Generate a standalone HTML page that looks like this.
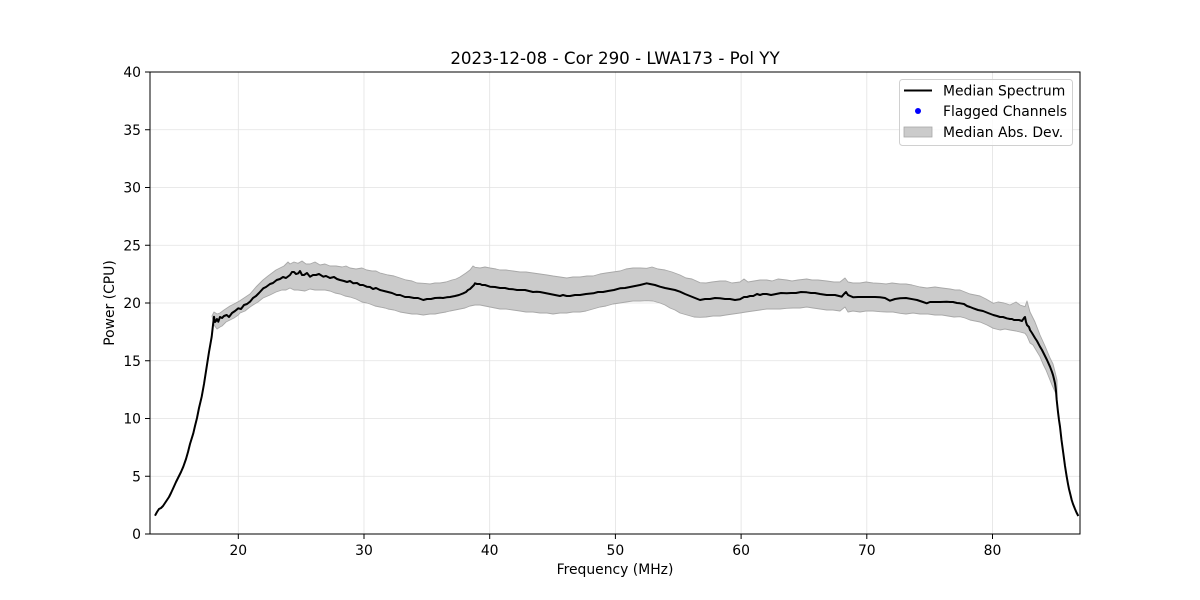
<!DOCTYPE html>
<html><head><meta charset="utf-8"><style>
html,body{margin:0;padding:0;background:#fff;}
svg{display:block;font-family:"DejaVu Sans","Liberation Sans",sans-serif;}
</style></head><body>
<svg width="1200" height="600" viewBox="0 0 1200 600" xmlns="http://www.w3.org/2000/svg">
<rect width="1200" height="600" fill="#fff"/>
<!-- grid -->
<g stroke="#e2e2e2" stroke-width="0.8">
<line x1="238.3" y1="72" x2="238.3" y2="534"/>
<line x1="364" y1="72" x2="364" y2="534"/>
<line x1="489.7" y1="72" x2="489.7" y2="534"/>
<line x1="615.4" y1="72" x2="615.4" y2="534"/>
<line x1="741.1" y1="72" x2="741.1" y2="534"/>
<line x1="866.8" y1="72" x2="866.8" y2="534"/>
<line x1="992.5" y1="72" x2="992.5" y2="534"/>
<line x1="150" y1="476.25" x2="1080" y2="476.25"/>
<line x1="150" y1="418.5" x2="1080" y2="418.5"/>
<line x1="150" y1="360.75" x2="1080" y2="360.75"/>
<line x1="150" y1="303" x2="1080" y2="303"/>
<line x1="150" y1="245.25" x2="1080" y2="245.25"/>
<line x1="150" y1="187.5" x2="1080" y2="187.5"/>
<line x1="150" y1="129.75" x2="1080" y2="129.75"/>
</g>
<!-- band -->
<polygon fill="#cbcbcb" stroke="#a8a8a8" stroke-width="0.9" stroke-linejoin="round" points="
212,316 214,312 217,314 220,313 224,310 230,306 234,304 238.3,301.7 244,298 250,294 256,287 263,280 268,276 272,273 276,270 280,268 284,266 288,262 290,264 294,262 298,263.3 302,261 306,264 310,264 315,262 320,265 325,264 330,266 336,266 342,267 346,266 350,268 356,269 362,268 366.7,270 372,271 376,271 380,273 388,275 394,276 400,278 406,280 412,281 417,283 423.3,283.3 430,284 435,283 440,283 446,282 452,280 456,279 460,277 466,273 470,270 473,266 475,267.3 480,268 485,267 490,268 496,269 500,270 506,270 513,271 520,272 526,272 533,273 540,274 547,275 553,276 560,277 566.7,278 573,277 580,277 587,276 593,276 600,274 606,273 613,272 620,271 626,269 633,268 640,268 646.7,268.3 652,267 658,269 665,270 672,272 680,275 686,278 692,279 700,282.7 706,283 712,282 720,281 726,281 732,283 740,282 744,279 748,282 754,281 760,280 766.7,280 772,281 778,279 786.7,280 792,281 798,280 806.7,279 812,280 818,280 826.7,281 834,282 840,282 845,278 848,282 853,283 860,283 866,282 873,283 880,283.3 886,284 892,283 900,284 906,284 912,285 920,287 927,288 935,287 942,288 950,289 955,290 960,290 965,292 970,294 975,295 980,296 986,299 993.3,303.3 998,302 1004,303 1010,305 1016,302 1020,305 1025,306.7 1027,301 1030,312 1035,322 1040,335 1045,346 1050,358 1053,364 1055,371.7 1057,380
1057,396 1055,391.7 1052,385 1050,380 1046,370 1043,364 1040,356.7 1036,350 1033,345 1030,343 1027,336 1025,333.3 1020,332 1016,331 1010,330 1005,329 1000,330 993.3,328.3 987,325 980,322 975,321 970,320 965,318 960,316.7 954,317 948,316 942,315 935,315 928,314 920,314 913,313 906,314 900,313.3 893,312 887,312 880,311.7 873,311 866,311 860,312 853,311 848,312 845,307 840,311 833,310 826.7,310 820,309 813,308 806.7,307 800,308 793,308 786.7,308.3 780,309 773,309 766.7,309 760,310 753,311 746,312 740,313 733,314 726,315 720,316 713,316 706,317 700,317.3 694,317 687,315 680,313 675,310 670,308 665,305 660,303 653,301 646.7,300.7 640,301 633,301 626,302 620,303 613,304 606,306 600,307 593,309 586,311 580,312 573,312 566.7,313 560,313 553,314 547,313 540,313 533,312 526,312 520,311 513,310 506,309 500,309 495,308 490,307 485,306 480,305 475,305 470,306 465,308 460,309 455,310 450,311 446,312 440,313 435,314 430,314 423.3,315 417,314 412,314 406,313 400,312 394,310 388,309 385,308 380,307 375,306 370,304 366.7,303 362,302 356,299 350,297 345,296 340,294 335,293 330,291 325,290 320,290 315,290 310,289 305,291 298,290 294,290 290,288 286,290 282,290 276,292 270,295 263,298 258,302 253,305 250,307 245,311 240,313 238.3,315 234,318 230,320 226,322 222,326 220,327 217,329 214,325"/>
<!-- median -->
<polyline fill="none" stroke="#000" stroke-width="2" stroke-linejoin="round" points="
155,515.7 157,512 159,509 161,508 163,506 165,503 167,500 169,497 171,493 173.3,488 176,482 178,478 181,472 183.3,466.7 186,459 188,452 190,444 193.3,433.3 195,426 197,418 199,408 201.7,396.7 204,384 206.7,366.7 209,352 211.7,336.7 213,325 214,316.7 215,322 216,321 217,319 218.3,321.7 220,317 222,318 224,316 226.7,315 229,317 232,313 235,311 238.3,308.3 241,309 244,305 247,304 250,301.7 253,298 256,296 259,293 263.3,288.3 266,287 270,284 273,283 276.7,280 280,279 283,277 286,278 290,275 292,272 294,272 296,274 298.3,273.3 300,271 302,275 304,275 307,273 310,276.7 313,275 316,275 319,274 323.3,276.7 326,276 330,278 334,277 337,279 340,280 344,281 347,282 350,281 353.3,283.3 357,283 360,285 363,285 366.7,286.7 370,287 373,289 376,288 380,290 384,291 388,292 392,293 396.7,295 400,295 405,297 409,297 414,298 418,298 423.3,300 427,299 431,299 435,298 440,297.7 443,298 446.7,297.3 450,297 455,296 459,295 463.3,293.3 466,292 468,290 470,289 472,287 474,285 475,283.3 477,284 480,284 482,285 485,285 490,286.7 495,287 500,288 505,288 509,289 513.3,289.3 517,290 521,290 525,290 529,291 533,292 536.7,291.7 540,292 545,293 550,294 555,295 560,296 563,295 566.7,296 570,296 575,295 580,295 586,294 593.3,293.3 598,292 603,292 608,291 614,290 620,288.3 625,288 630,287 635,286 640,285 646.7,283.3 650,284 655,285 660,286.7 665,288 670,289 675,290 680,291.7 685,294 690,296 695,298 700,300 705,299 710,299 715,298 720,298.3 725,299 730,299 735,300 740,299.3 744,297 747,297 750,296 753.3,296 757,294 760,295 763,294 766.7,294 771,295 776,294 781,293 786.7,293.3 791,293 796,293 801,292 806.7,292.3 811,293 815,293 820,294 826.7,295 831,295 835,295 839,296 841.7,296.7 844,294 846,292 848,295 853.3,297.3 858,297 865,297 870,297 875,297 880,297.3 885,298 890,300.7 895,299 900,298.3 906,298 913.3,299.3 917,300 920,301 923,302 926.7,303.3 930,302 935,302 940,302 946.7,301.7 950,302 953,302 957,303 960,303.3 964,304 967,306 970,307 973.3,308.3 978,310 983,311 988,313 993.3,315 997,316 1000,317 1003,317 1006.7,318.3 1010,319 1012,319 1014,320 1016.7,320 1019,320 1022,321 1024,318 1025,317 1026,322 1027,325 1029,327 1030,330 1032,333 1035,338 1037,341 1040,346.7 1042,350 1045,356 1047,360 1050,366.7 1052,372 1053,375 1054,379 1055,383.3 1056,391 1056.7,400 1058,412 1059,420 1060,426.7 1061.5,440 1063.3,453.3 1065,466 1066.7,476.7 1068,484 1069,489 1070.5,495 1071.7,500 1073,504 1075,509 1076.5,512.5 1078.3,516"/>
<!-- axes frame -->
<rect x="150" y="72" width="930" height="462" fill="none" stroke="#000" stroke-width="1"/>
<!-- ticks -->
<g stroke="#000" stroke-width="1">
<line x1="238.3" y1="534" x2="238.3" y2="539"/>
<line x1="364" y1="534" x2="364" y2="539"/>
<line x1="489.7" y1="534" x2="489.7" y2="539"/>
<line x1="615.4" y1="534" x2="615.4" y2="539"/>
<line x1="741.1" y1="534" x2="741.1" y2="539"/>
<line x1="866.8" y1="534" x2="866.8" y2="539"/>
<line x1="992.5" y1="534" x2="992.5" y2="539"/>
<line x1="145" y1="534" x2="150" y2="534"/>
<line x1="145" y1="476.25" x2="150" y2="476.25"/>
<line x1="145" y1="418.5" x2="150" y2="418.5"/>
<line x1="145" y1="360.75" x2="150" y2="360.75"/>
<line x1="145" y1="303" x2="150" y2="303"/>
<line x1="145" y1="245.25" x2="150" y2="245.25"/>
<line x1="145" y1="187.5" x2="150" y2="187.5"/>
<line x1="145" y1="129.75" x2="150" y2="129.75"/>
<line x1="145" y1="72" x2="150" y2="72"/>
</g>
<g font-size="13.9px" fill="#000" text-anchor="middle">
<text x="238.3" y="555">20</text>
<text x="364" y="555">30</text>
<text x="489.7" y="555">40</text>
<text x="615.4" y="555">50</text>
<text x="741.1" y="555">60</text>
<text x="866.8" y="555">70</text>
<text x="992.5" y="555">80</text>
</g>
<g font-size="13.9px" fill="#000" text-anchor="end">
<text x="141" y="539">0</text>
<text x="141" y="481.25">5</text>
<text x="141" y="423.5">10</text>
<text x="141" y="365.75">15</text>
<text x="141" y="308">20</text>
<text x="141" y="250.25">25</text>
<text x="141" y="192.5">30</text>
<text x="141" y="134.75">35</text>
<text x="141" y="77">40</text>
</g>
<text x="615" y="574" font-size="13.9px" text-anchor="middle">Frequency (MHz)</text>
<text transform="translate(114,303) rotate(-90)" font-size="13.9px" text-anchor="middle">Power (CPU)</text>
<text x="615" y="64" font-size="16.7px" text-anchor="middle">2023-12-08 - Cor 290 - LWA173 - Pol YY</text>
<!-- legend -->
<rect x="899.5" y="79.5" width="173" height="66" rx="3" ry="3" fill="#fff" fill-opacity="0.8" stroke="#d0d0d0" stroke-width="1"/>
<line x1="904" y1="90.5" x2="932" y2="90.5" stroke="#000" stroke-width="2"/>
<circle cx="918" cy="111" r="3" fill="#0000ff"/>
<rect x="904" y="127" width="28" height="10" fill="#cbcbcb" stroke="#a8a8a8" stroke-width="0.8"/>
<g font-size="13.9px" fill="#000">
<text x="943" y="95.5">Median Spectrum</text>
<text x="943" y="116">Flagged Channels</text>
<text x="943" y="137">Median Abs. Dev.</text>
</g>
</svg>
</body></html>
